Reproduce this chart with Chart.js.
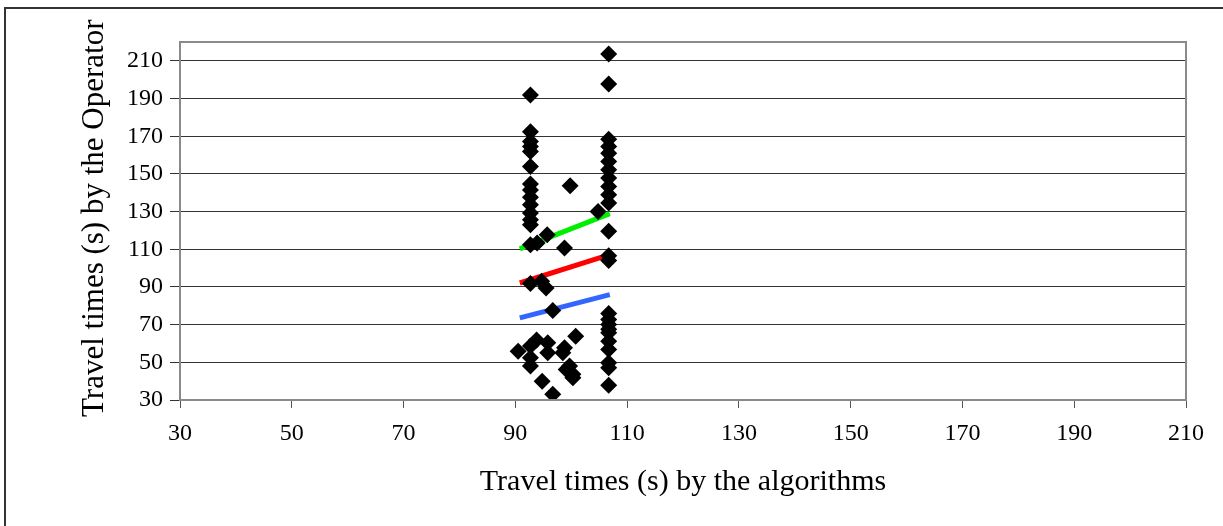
<!DOCTYPE html>
<html>
<head>
<meta charset="utf-8">
<script src="https://cdn.jsdelivr.net/npm/chart.js@4.4.1/dist/chart.umd.min.js"></script>
<style>
  html, body { margin: 0; padding: 0; background: #fff; }
  #wrap { width: 1223px; height: 526px; position: relative; }
</style>
</head>
<body>
<div id="wrap"><canvas id="myChart" width="1223" height="526"></canvas></div>
<script>
// travel times (s): x = by the algorithms, y = by the operators
const algTimes = [
  92.7, 92.7, 92.7, 92.7, 92.7, 92.7, 92.7, 92.7, 92.7, 92.7, 92.7, 92.7, 92.7, 92.7, 92.7, 92.7, 92.7, 92.7,
  106.7, 106.7, 106.7, 106.7, 106.7, 106.7, 106.7, 106.7, 106.7, 106.7, 106.7, 106.7,
  106.7, 106.7, 106.7, 106.7, 106.7, 106.7, 106.7, 106.7, 106.7, 106.7, 106.7, 106.7,
  99.8, 104.8, 95.7, 93.9, 98.8, 94.7, 95.5, 96.7, 100.8, 90.5, 93.8,
  95.8, 95.8, 98.8, 98.5, 99.7, 99.1, 100.3, 100.3, 94.8, 96.7
];
const opTimes = [
  191.9, 172.4, 167.2, 164.5, 161.9, 153.9, 144.7, 141.5, 137.6, 133.6, 129.2, 125.6, 123.0, 112.4, 91.8, 58.6, 52.4, 48.0,
  213.6, 197.7, 168.4, 164.5, 161.0, 156.6, 152.2, 147.8, 143.3, 138.9, 134.5, 119.5,
  106.5, 104.0, 75.9, 72.7, 70.1, 67.5, 65.7, 61.2, 56.8, 49.8, 47.1, 37.8,
  143.7, 130.1, 117.7, 113.3, 110.7, 93.0, 89.5, 77.5, 63.9, 55.9, 61.8,
  60.4, 55.1, 57.7, 55.1, 48.0, 46.2, 43.6, 41.8, 40.0, 33.0
];

// the three straight lines
const lineX = [90.8, 106.9];
const upperLine = [110.2, 128.9];
const middleLine = [92.1, 107.1];
const lowerLine = [73.6, 85.9];

const xTicks = [30, 50, 70, 90, 110, 130, 150, 170, 190, 210];
const yTicks = [30, 50, 70, 90, 110, 130, 150, 170, 190, 210];

const xTitle = 'Travel times (s) by the algorithms';
const yTitle = 'Travel times (s) by the Operators';

const FONT = "'Liberation Serif', 'Times New Roman', serif";

function pairs(xs, ys) {
    return xs.map((x, i) => ({ x: x, y: ys[i] }));
}

function lineSet(ys, color) {
    return {
        type: 'line',
        data: pairs(lineX, ys),
        borderColor: color,
        backgroundColor: color,
        borderWidth: 5,
        pointRadius: 0,
        fill: false
    };
}

// frame around the plot, outer border, rotated (clipped) y title
const decor = {
    id: 'decor',
    beforeDraw(chart) {
        const ctx = chart.ctx;
        ctx.save();
        ctx.fillStyle = '#fff';
        ctx.fillRect(0, 0, chart.width, chart.height);
        ctx.strokeStyle = '#333';
        ctx.lineWidth = 2;
        ctx.beginPath();
        ctx.moveTo(5, chart.height);
        ctx.lineTo(5, 8);
        ctx.lineTo(chart.width, 8);
        ctx.stroke();
        ctx.restore();
    },
    afterDatasetsDraw(chart) {
        const ctx = chart.ctx;
        const a = chart.chartArea;
        ctx.save();
        ctx.strokeStyle = '#8a8a8a';
        ctx.lineWidth = 2;
        ctx.strokeRect(a.left, a.top, a.right - a.left, a.bottom - a.top);
        ctx.restore();
    },
    afterDraw(chart) {
        const ctx = chart.ctx;
        ctx.save();
        ctx.beginPath();
        ctx.rect(0, 19, 200, chart.height);
        ctx.clip();
        ctx.translate(95, 417);
        ctx.rotate(-Math.PI / 2);
        ctx.fillStyle = '#000';
        ctx.font = '31px ' + FONT;
        ctx.textAlign = 'left';
        ctx.textBaseline = 'middle';
        ctx.fillText(yTitle, 0, 0);
        ctx.restore();
    }
};

const canvas = document.getElementById('myChart');
new Chart(canvas.getContext('2d'), {
    type: 'scatter',
    data: {
        datasets: [
            {
                data: pairs(algTimes, opTimes),
                pointStyle: 'rectRot',
                pointRadius: 8.5,
                pointBorderWidth: 0,
                backgroundColor: '#000',
                borderColor: '#000'
            },
            lineSet(upperLine, '#00ee00'),
            lineSet(middleLine, '#ff0000'),
            lineSet(lowerLine, '#3366ff')
        ]
    },
    options: {
        responsive: false,
        animation: false,
        layout: { padding: { top: 42, right: 37, left: 0, bottom: 0 } },
        plugins: {
            legend: { display: false },
            tooltip: { enabled: false }
        },
        scales: {
            x: {
                type: 'linear',
                min: 30,
                max: 210,
                afterBuildTicks: s => { s.ticks = xTicks.map(v => ({ value: v })); },
                afterFit: s => { s.height = 126; },
                grid: { drawOnChartArea: false, drawTicks: true, tickLength: 8, color: '#555' },
                border: { display: false },
                ticks: { color: '#000', font: { family: FONT, size: 24 }, padding: 11, maxRotation: 0 },
                title: { display: true, text: xTitle, color: '#000', font: { family: FONT, size: 30 }, padding: { top: 0, bottom: 26 } }
            },
            y: {
                type: 'linear',
                min: 30,
                max: 220,
                afterBuildTicks: s => { s.ticks = yTicks.map(v => ({ value: v })); },
                afterFit: s => { s.width = 180; },
                grid: { drawTicks: true, tickLength: 10, color: '#333', lineWidth: 1 },
                border: { display: false },
                ticks: { color: '#000', font: { family: FONT, size: 24 }, padding: 7 }
            }
        }
    },
    plugins: [decor]
});
</script>
</body>
</html>
